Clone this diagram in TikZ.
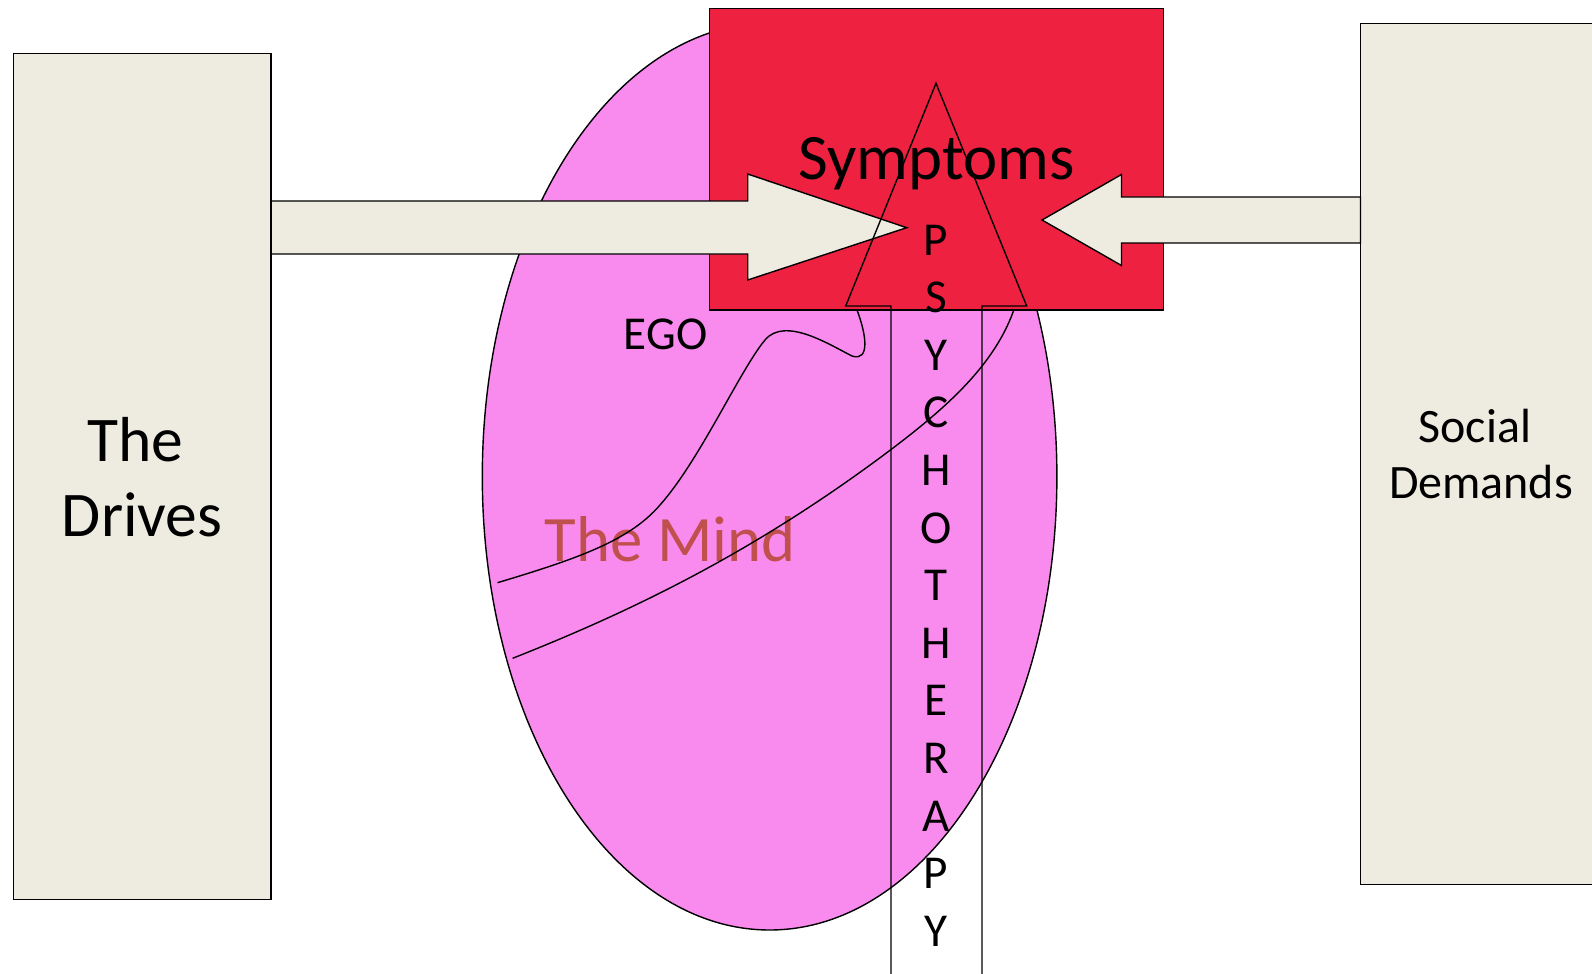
\documentclass[tikz,border=0pt]{standalone}
\usepackage{fontspec}
\setmainfont{Carlito}
\usetikzlibrary{shapes.geometric}
\definecolor{drivebg}{HTML}{EEECE1}
\definecolor{symred}{HTML}{EE2240}
\definecolor{mindpink}{HTML}{F98BEE}
\definecolor{mindtext}{HTML}{C0504D}

\begin{document}
\begin{tikzpicture}[x=0.5pt, y=-0.5pt, line width=0.7pt,
    tanbox/.style={draw, fill=drivebg, inner sep=0pt, align=center},
    blockarrow/.style={draw, fill=drivebg, line join=miter},
    bigfont/.style={font=\fontsize{32.4}{36}\selectfont},
    smallfont/.style={font=\fontsize{23.6}{26}\selectfont}]
    \useasboundingbox (0,0) rectangle (1592,974);
    \clip (0,0) rectangle (1592,974);
    % the two outer boxes
    \node[tanbox, minimum width=128.95pt, minimum height=422.9pt,
          font=\fontsize{31.8}{37.5}\selectfont] (drives) at (142.2,476.7) {The\kern7pt\\Drives};
    \node[tanbox, minimum width=120.5pt, minimum height=430.45pt,
          font=\fontsize{24}{28}\selectfont] (social) at (1481,453.9) {Social\kern6pt\\Demands};
    % the mind and its labels
    \node[ellipse, draw, fill=mindpink, inner sep=0pt,
          minimum width=287.3pt, minimum height=453.5pt] (mind) at (769.6,476.5) {};
    \node[bigfont, text=mindtext, anchor=base] (mindlabel) at (670.3,561.7) {The Mind};
    \node[smallfont, anchor=base] (ego) at (665.5,350) {EGO};
    % ego border and the lower line
    \draw (497.5,582.7) .. controls (580,558) and (630,540) .. (660,505)
        .. controls (700,460) and (740,370) .. (765,340)
        .. controls (785,316) and (830,345) .. (852,356)
        .. controls (870,362) and (868,335) .. (853,300);
    \draw (512.6,658.3) .. controls (640,608) and (760,548) .. (890.4,450)
        .. controls (950,405) and (1000,360) .. (1017,300);
    % symptoms box
    \node[draw, fill=symred, inner sep=0pt, minimum width=227pt,
          minimum height=150.85pt] (symptoms) at (936.3,159.15) {};
    \node[bigfont, anchor=base] (symlabel) at (936.7,180) {Symptoms};
    % pressure from both sides
    \draw[blockarrow] (271.1,201) -- (747.7,201) -- (747.7,174) -- (906.7,227.7)
        -- (747.7,280) -- (747.7,254) -- (271.1,254) -- cycle;
    \draw[blockarrow] (1360.5,197) -- (1121.5,197) -- (1121.5,174.5) -- (1042,220)
        -- (1121.5,265.5) -- (1121.5,243) -- (1360.5,243) -- cycle;
    % psychotherapy arrow, open
    \draw[line join=miter] (936,83.3) -- (1026.7,306) -- (982,306) -- (982,990)
        -- (891,990) -- (891,306) -- (845.7,306) -- cycle;
    \foreach \ch [count=\i from 0] in {P,S,Y,C,H,O,T,H,E,R,A,P,Y}
        \node[smallfont, inner sep=0pt] (psy\i) at (936,{240+57.6*\i}) {\ch};
\end{tikzpicture}
\end{document}
